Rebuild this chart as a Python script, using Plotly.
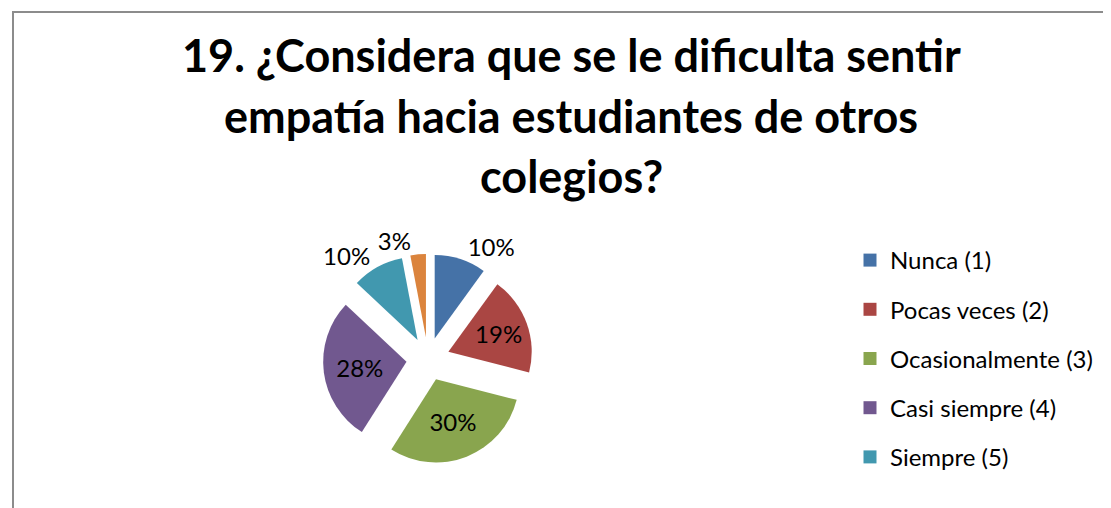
import plotly.graph_objects as go

# datos
categorias = ["Nunca (1)", "Pocas veces (2)", "Ocasionalmente (3)",
              "Casi siempre (4)", "Siempre (5)", "Sin respuesta"]
porcentajes = [10, 19, 30, 28, 10, 3]
colores = ["#4572A7", "#AA4643", "#89A54E", "#71588F", "#4198AF", "#DB843D"]
en_leyenda = 5  # solo las cinco primeras aparecen en la leyenda
titulo = ["19. ¿Considera que se le dificulta sentir",
          "empatía hacia estudiantes de otros",
          "colegios?"]

W, H = 1111, 508
FUENTE = "Lato, 'Open Sans', sans-serif"
dominio = dict(x=[315 / W, 525 / W], y=[1 - 456 / H, 1 - 246 / H])

fig = go.Figure()

# gráfico circular separado
fig.add_trace(
    go.Pie(
        labels=categorias,
        values=porcentajes,
        sort=False,
        direction="clockwise",
        rotation=0,
        pull=0.26,
        marker=dict(colors=colores),
        texttemplate="%{percent:.0%}",
        textposition=["outside", "inside", "inside", "inside", "outside", "none"],
        textfont=dict(size=24, color="black", family=FUENTE),
        insidetextorientation="horizontal",
        domain=dominio,
        showlegend=False,
        hoverinfo="label+percent",
    )
)

# copia transparente solo para la etiqueta del 3% (evita la línea guía)
fig.add_trace(
    go.Pie(
        labels=categorias,
        values=porcentajes,
        sort=False,
        direction="clockwise",
        rotation=0,
        pull=0.26,
        marker=dict(colors=["rgba(0,0,0,0)"] * len(porcentajes),
                    line=dict(width=0)),
        texttemplate="%{percent:.0%}",
        textposition=["none"] * 5 + ["outside"],
        textfont=dict(size=24, color="black", family=FUENTE),
        domain=dominio,
        showlegend=False,
        hoverinfo="skip",
    )
)

# leyenda con marcadores cuadrados
for i in range(en_leyenda):
    fig.add_trace(
        go.Scatter(
            x=[None], y=[None],
            mode="markers",
            name=categorias[i],
            legendgroup=str(i),
            marker=dict(symbol="square", size=13, color=colores[i]),
        )
    )

# título en tres líneas
anotaciones = [
    dict(
        text=linea,
        x=563 / W, y=1 - y_px / H,
        xref="paper", yref="paper",
        xanchor="center", yanchor="middle",
        showarrow=False,
        font=dict(size=45, color="black", family=FUENTE, weight="bold"),
    )
    for linea, y_px in zip(titulo, [47, 108, 168])
]

fig.update_layout(
    width=W,
    height=H,
    margin=dict(l=0, r=0, t=0, b=0),
    paper_bgcolor="white",
    plot_bgcolor="white",
    xaxis=dict(visible=False),
    yaxis=dict(visible=False),
    annotations=anotaciones,
    legend=dict(
        x=842 / W, y=1 - 230 / H,
        xanchor="left", yanchor="top",
        font=dict(size=24, color="black", family=FUENTE),
        tracegroupgap=15,
        itemwidth=30,
        bgcolor="rgba(0,0,0,0)",
    ),
    shapes=[
        dict(
            type="rect", xref="paper", yref="paper",
            x0=5 / W, x1=1.02, y0=-0.02, y1=1 - 4 / H,
            line=dict(color="#8c8c8c", width=2),
        )
    ],
)

fig.write_html("out.html")
